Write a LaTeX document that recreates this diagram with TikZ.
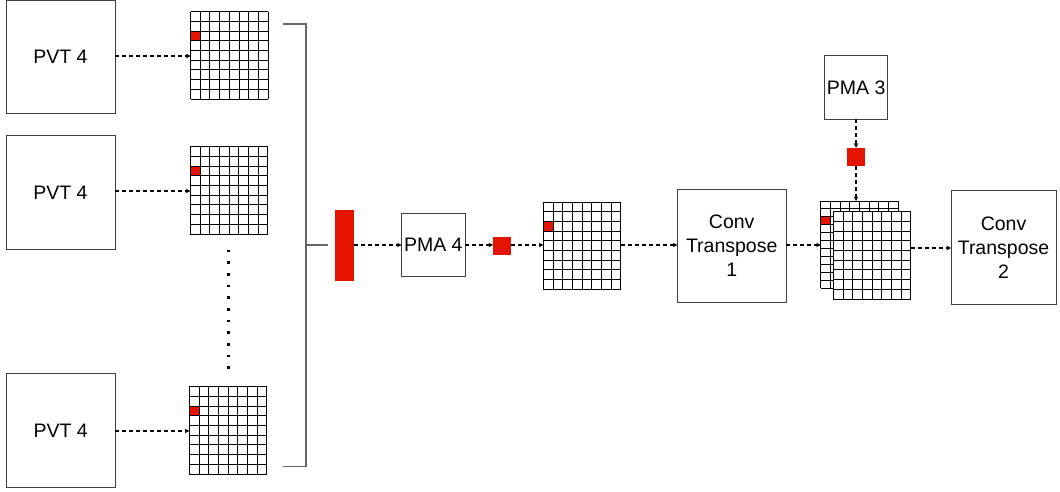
\documentclass[tikz,border=0pt]{standalone}
\usepackage{fontspec}
\setmainfont{Liberation Sans}
\usetikzlibrary{arrows.meta}
\definecolor{dioRed}{HTML}{E51400}
\newcommand{\mygrid}[6]{%
  \foreach \i in {0,...,#3} \draw[gridline] ({#1+\i*#5/#3},#2) -- ({#1+\i*#5/#3},{#2+#6});
  \foreach \j in {0,...,#4} \draw[gridline] (#1,{#2+\j*#6/#4}) -- ({#1+#5},{#2+\j*#6/#4});
}
\tikzset{
  box/.style={draw=black!75, line width=1pt, fill=white, inner sep=0pt, outer sep=0pt, align=center, font=\fontsize{19.5}{24}\selectfont},
  bigbox/.style={box, minimum width=109pt, minimum height=113.5pt},
  smallbox/.style={box, minimum width=63.5pt, minimum height=63.5pt},
  redblock/.style={fill=dioRed, draw=none, inner sep=0pt, outer sep=0pt},
  gridnode/.style={draw=none, inner sep=0pt, outer sep=0pt, minimum width=77.6pt, minimum height=87.3pt},
  gridline/.style={draw=black, line width=0.9pt},
  flow/.style={draw=black, line width=1.2pt, dash pattern=on 4pt off 3pt, -{Stealth[length=4.5pt,width=4.5pt]}},
  bracket/.style={draw=black!60, line width=1.2pt},
}
\begin{document}
\begin{tikzpicture}[x=1pt, y=-1pt]
\useasboundingbox (0,0) rectangle (1060,492);

% PVT boxes
\node[bigbox] (pvt1) at (60.5,57) {PVT 4};
\node[bigbox] (pvt2) at (60.5,192.7) {PVT 4};
\node[bigbox] (pvt3) at (60.6,430.3) {PVT 4};

% grids column
\node[gridnode] (g1) at ({190.5+38.8},{11.7+43.65}) {};
\fill[dioRed] (190.5,{11.7+2*9.7}) rectangle ({190.5+9.7},{11.7+3*9.7});
\mygrid{190.5}{11.7}{8}{9}{77.6}{87.3}

\node[gridnode] (g2) at ({190.3+38.8},{146.7+43.65}) {};
\fill[dioRed] (190.3,{146.7+2*9.7}) rectangle ({190.3+9.7},{146.7+3*9.7});
\mygrid{190.3}{146.7}{8}{9}{77.6}{87.3}

\node[gridnode] (g3) at ({189.3+38.8},{386.7+43.65}) {};
\fill[dioRed] (189.3,{386.7+2*9.7}) rectangle ({189.3+9.7},{386.7+3*9.7});
\mygrid{189.3}{386.7}{8}{9}{77.6}{87.3}

% vertical dots
\foreach \k in {0,...,10} \fill (226.9,{251+\k*11.67-1.4}) rectangle +(2.8,2.8);

% arrows PVT -> grids
\draw[flow] (pvt1.east |- 0,56) -- (g1.west |- 0,56);
\draw[flow] (pvt2.east |- 0,191) -- (g2.west |- 0,191);
\draw[flow] (pvt3.east |- 0,431) -- (g3.west |- 0,431);

% bracket
\coordinate (bt) at (283.3,24);
\coordinate (bb) at (283.3,466.7);
\coordinate (bm) at (306,245);
\coordinate (bs) at (328,245);
\draw[bracket] (bt) -| (bm |- bb) -- (bb);
\draw[bracket] (bm) -- (bs);

% red bar, PMA 4, red square, grid 4
\node[redblock, minimum width=19.3pt, minimum height=71pt] (bar) at (344.7,245.5) {};
\node[smallbox] (pma4) at (433.3,245) {PMA 4};
\node[redblock, minimum width=18.3pt, minimum height=18pt] (sq1) at (502.2,246) {};
\node[gridnode] (g4) at ({543.3+38.8},{202+43.65}) {};
\fill[dioRed] (543.3,{202+2*9.7}) rectangle ({543.3+9.7},{202+3*9.7});
\mygrid{543.3}{202}{8}{9}{77.6}{87.3}

\draw[flow] (bar.east |- pma4.west) -- (pma4.west);
\draw[flow] (pma4.east) -- (pma4.east -| sq1.west);
\draw[flow] (sq1.east |- pma4.east) -- (sq1.east |- pma4.east -| g4.west);

% Conv Transpose 1
\node[box, minimum width=108.7pt, minimum height=113.3pt] (ct1) at (731.7,245.7) {Conv\\Transpose\\1};
\draw[flow] (g4.east |- pma4.east) -- (ct1.west |- pma4.east);

% PMA 3 and red square
\node[smallbox] (pma3) at (856.2,87.7) {PMA 3};
\node[redblock, minimum width=18.3pt, minimum height=18.3pt] (sq2) at (856.2,156.9) {};

% stacked grids
\node[gridnode] (gb) at ({820.7+38.8},{201+43.65}) {};
\fill[white] (820.7,201) rectangle ({820.7+77.6},{201+87.3});
\fill[dioRed] (820.7,{201+2*7.94}) rectangle ({820.7+9.7},{201+3*7.94});
\mygrid{820.7}{201}{8}{11}{77.6}{87.3}
\node[gridnode] (gf) at ({833.3+38.8},{211.7+43.65}) {};
\fill[white] (833.3,211.7) rectangle ({833.3+77.6},{211.7+87.3});
\mygrid{833.3}{211.7}{8}{9}{77.6}{87.3}

\draw[flow] (pma3.south -| 856,0) -- (sq2.north -| 856,0);
\draw[flow] (sq2.south -| 856,0) -- (gb.north -| 856,0);
\draw[flow] (ct1.east |- 0,245) -- (gb.west |- 0,245);

% Conv Transpose 2
\node[box, minimum width=105pt, minimum height=113.6pt] (ct2) at (1003.5,247.5) {Conv\\Transpose\\2};
\draw[flow] (gf.east |- 0,248) -- (ct2.west |- 0,248);
\end{tikzpicture}
\end{document}
